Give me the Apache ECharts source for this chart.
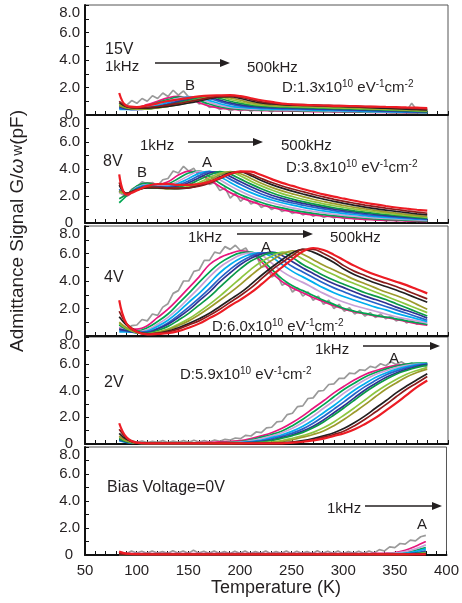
<!DOCTYPE html>
<html><head><meta charset="utf-8">
<script src="https://cdn.jsdelivr.net/npm/echarts@6/dist/echarts.min.js"></script>
<style>html,body{margin:0;padding:0;background:#fff}#c{width:462px;height:603px}</style>
</head><body><div id="c"></div>
<script>
// ---------------- DATA ----------------
const T = [83,90,100,110,120,130,140,150,160,170,180,190,200,210,220,230,240,250,260,270,280,290,300,310,320,330,340,350,360,370,380];
const TG = [85,90,95,100,105,110,115,120,125,130,135,140,145,150,155,160,165,170,175,180,185,190,195,200,205,210,215,220,225,230,235,240,245,250,255,260,265,270,275,280,285,290,295,300,305,310,315,320,325,330,335,340,345,350,355,360,365,370,375,380];
const xTicks = [50,100,150,200,250,300,350,400];
const yTicks = [0,2,4,6,8];
const biasLabels = ['15V','8V','4V','2V','Bias Voltage=0V'];
const densities = ['1.3','3.8','6.0','5.9'];

// 15 V
const v15_gray = [0.9,0.7,1.05,0.85,1.2,1.0,1.4,1.2,1.6,1.35,1.8,1.45,1.75,1.3,1.2,0.8,0.9,0.55,0.65,0.4,0.55,0.3,0.45,0.3,0.5,0.25,0.45,0.3,0.4,0.22,0.5,0.3,0.4,0.25,0.45,0.3,0.4,0.28,0.5,0.3,0.38,0.25,0.45,0.3,0.4,0.25,0.6,0.3,0.4,0.25,0.45,0.28,0.4,0.25,0.5,0.3,0.85,0.35,0.45,0.3];
const v15_magenta = [0.6,0.5,0.55,0.75,1.0,1.25,1.35,1.2,0.9,0.65,0.5,0.42,0.38,0.35,0.33,0.31,0.3,0.28,0.27,0.25,0.24,0.23,0.22,0.21,0.2,0.19,0.18,0.17,0.16,0.15,0.15];
const v15_green = [0.5,0.45,0.5,0.65,0.9,1.12,1.3,1.3,1.05,0.8,0.6,0.48,0.42,0.38,0.36,0.34,0.33,0.32,0.3,0.29,0.27,0.26,0.25,0.24,0.22,0.21,0.2,0.19,0.18,0.17,0.16];
const v15_plum = [0.55,0.45,0.45,0.58,0.8,1.02,1.22,1.33,1.18,0.92,0.7,0.56,0.48,0.43,0.4,0.38,0.37,0.36,0.34,0.32,0.31,0.29,0.28,0.26,0.25,0.23,0.22,0.21,0.19,0.18,0.17];
const v15_cyan = [0.4,0.4,0.42,0.52,0.7,0.92,1.12,1.3,1.28,1.05,0.82,0.65,0.55,0.49,0.45,0.43,0.41,0.4,0.38,0.36,0.34,0.32,0.3,0.29,0.27,0.25,0.24,0.22,0.21,0.2,0.18];
const v15_blue = [0.5,0.42,0.4,0.48,0.62,0.82,1.02,1.2,1.32,1.2,0.97,0.78,0.65,0.57,0.52,0.49,0.47,0.45,0.43,0.41,0.39,0.37,0.35,0.33,0.31,0.29,0.27,0.25,0.23,0.21,0.2];
const v15_navy = [0.6,0.45,0.4,0.45,0.58,0.75,0.95,1.13,1.3,1.28,1.08,0.88,0.74,0.64,0.58,0.54,0.52,0.5,0.48,0.46,0.44,0.42,0.4,0.38,0.36,0.34,0.31,0.29,0.27,0.25,0.22];
const v15_green2 = [0.7,0.5,0.42,0.44,0.55,0.7,0.88,1.06,1.24,1.32,1.2,1.0,0.84,0.72,0.65,0.6,0.57,0.55,0.53,0.51,0.49,0.47,0.45,0.43,0.41,0.38,0.36,0.33,0.31,0.28,0.25];
const v15_ygreen = [0.8,0.55,0.45,0.45,0.52,0.65,0.8,0.98,1.15,1.3,1.3,1.13,0.95,0.8,0.71,0.66,0.63,0.61,0.59,0.57,0.55,0.52,0.5,0.48,0.46,0.43,0.41,0.38,0.35,0.32,0.29];
const v15_olive = [0.7,0.52,0.45,0.46,0.52,0.62,0.75,0.9,1.07,1.23,1.33,1.25,1.07,0.9,0.79,0.72,0.68,0.66,0.64,0.62,0.6,0.57,0.55,0.52,0.5,0.47,0.44,0.41,0.38,0.35,0.32];
const v15_black = [0.9,0.6,0.5,0.5,0.55,0.63,0.74,0.87,1.02,1.18,1.32,1.33,1.2,1.02,0.88,0.8,0.75,0.72,0.7,0.68,0.66,0.63,0.61,0.58,0.55,0.52,0.49,0.46,0.43,0.4,0.37];
const v15_brown = [1.0,0.62,0.52,0.55,0.62,0.72,0.84,0.98,1.12,1.26,1.36,1.38,1.3,1.12,0.96,0.86,0.8,0.77,0.75,0.73,0.71,0.69,0.67,0.65,0.62,0.6,0.57,0.54,0.5,0.47,0.43];
const v15_red = [1.6,0.67,0.58,0.7,0.85,1.02,1.13,1.25,1.35,1.41,1.43,1.44,1.37,1.22,1.07,0.95,0.83,0.77,0.73,0.71,0.69,0.67,0.66,0.64,0.62,0.61,0.59,0.57,0.55,0.53,0.5];

// 8 V
const v8_gray = [2.6,2.0,2.5,2.7,3.05,2.9,3.0,2.75,3.2,3.3,3.85,3.7,4.2,3.85,4.05,3.4,3.5,2.85,3.0,2.4,2.6,1.85,2.2,1.6,1.95,1.4,1.6,1.15,1.35,1.0,1.2,0.85,1.0,0.7,0.85,0.6,0.75,0.5,0.65,0.42,0.55,0.38,0.5,0.32,0.45,0.28,0.38,0.22,0.35,0.2,0.3,0.15,0.3,0.15,0.25,0.12,0.22,0.12,0.2,0.12];
const v8_magenta = [2.3,2.0,2.7,2.95,2.85,3.05,3.55,3.85,3.7,3.2,2.7,2.25,1.9,1.6,1.35,1.15,0.98,0.82,0.7,0.6,0.52,0.45,0.38,0.32,0.27,0.23,0.2,0.18,0.15,0.13,0.12];
const v8_green = [1.5,2.0,2.75,2.95,2.8,2.9,3.3,3.7,3.85,3.45,2.95,2.5,2.1,1.8,1.52,1.3,1.12,0.96,0.83,0.72,0.62,0.54,0.47,0.41,0.35,0.31,0.27,0.24,0.21,0.18,0.15];
const v8_plum = [2.2,2.1,2.65,2.85,2.75,2.8,3.1,3.5,3.82,3.65,3.2,2.75,2.35,2.0,1.72,1.5,1.3,1.12,0.98,0.86,0.75,0.65,0.57,0.5,0.43,0.38,0.34,0.3,0.26,0.23,0.2];
const v8_cyan = [2.4,2.1,2.6,2.8,2.7,2.72,2.95,3.3,3.68,3.82,3.45,3.0,2.6,2.25,1.95,1.7,1.5,1.32,1.16,1.02,0.9,0.79,0.7,0.61,0.54,0.47,0.42,0.37,0.32,0.28,0.25];
const v8_blue = [2.5,2.15,2.55,2.75,2.68,2.65,2.82,3.12,3.5,3.8,3.65,3.25,2.85,2.48,2.15,1.88,1.66,1.48,1.32,1.17,1.04,0.92,0.82,0.72,0.63,0.56,0.5,0.44,0.38,0.33,0.28];
const v8_navy = [2.4,2.15,2.5,2.7,2.65,2.62,2.72,2.98,3.35,3.7,3.78,3.45,3.05,2.68,2.35,2.06,1.82,1.62,1.45,1.3,1.16,1.03,0.92,0.82,0.72,0.64,0.57,0.5,0.44,0.38,0.32];
const v8_green2 = [1.8,2.1,2.5,2.68,2.62,2.58,2.65,2.85,3.2,3.55,3.8,3.62,3.25,2.88,2.54,2.24,1.98,1.77,1.58,1.42,1.27,1.13,1.01,0.9,0.8,0.71,0.63,0.56,0.49,0.42,0.36];
const v8_ygreen = [2.3,2.15,2.45,2.62,2.6,2.55,2.58,2.72,3.0,3.35,3.68,3.78,3.48,3.1,2.75,2.44,2.18,1.96,1.76,1.58,1.42,1.28,1.15,1.03,0.92,0.82,0.73,0.64,0.56,0.49,0.42];
const v8_olive = [2.4,2.2,2.45,2.6,2.58,2.54,2.55,2.65,2.88,3.2,3.55,3.8,3.65,3.3,2.95,2.64,2.38,2.16,1.95,1.76,1.59,1.43,1.29,1.16,1.04,0.93,0.83,0.73,0.64,0.56,0.48];
const v8_black = [2.8,2.2,2.45,2.6,2.6,2.56,2.54,2.6,2.78,3.05,3.4,3.72,3.78,3.5,3.15,2.84,2.58,2.36,2.15,1.95,1.77,1.6,1.45,1.31,1.18,1.06,0.96,0.86,0.77,0.68,0.6];
const v8_brown = [3.0,2.2,2.45,2.65,2.65,2.6,2.58,2.6,2.72,2.95,3.28,3.62,3.8,3.62,3.3,3.0,2.74,2.52,2.32,2.12,1.93,1.76,1.6,1.46,1.33,1.21,1.1,1.0,0.9,0.81,0.72];
const v8_red = [3.6,2.1,2.4,2.75,2.88,2.9,2.82,2.82,2.88,3.05,3.35,3.65,3.82,3.8,3.55,3.25,2.97,2.75,2.52,2.32,2.12,1.95,1.8,1.65,1.5,1.38,1.26,1.15,1.06,0.98,0.91];

// 4 V
const v4_gray = [0.7,0.5,0.75,0.8,1.2,1.1,1.6,1.5,2.1,2.35,3.1,3.3,4.0,4.0,4.7,4.8,5.5,5.5,6.1,6.0,6.5,6.3,6.6,6.2,6.4,5.8,5.9,5.0,5.1,4.3,4.5,3.7,3.9,3.2,3.5,2.9,3.2,2.6,2.9,2.3,2.6,2.0,2.3,1.8,2.05,1.6,1.85,1.45,1.7,1.35,1.6,1.25,1.45,1.1,1.3,0.95,1.15,0.85,1.0,0.8];
const v4_magenta = [0.6,0.5,0.5,0.75,1.35,1.95,2.7,3.5,4.3,5.2,5.7,6.0,6.2,6.05,5.4,4.6,3.95,3.5,3.15,2.8,2.5,2.2,1.95,1.75,1.6,1.45,1.35,1.2,1.05,0.9,0.78];
const v4_green = [0.5,0.4,0.35,0.6,1.05,1.6,2.35,3.1,3.9,4.65,5.3,5.75,6.05,6.1,5.6,4.85,4.15,3.65,3.3,2.95,2.6,2.3,2.0,1.8,1.65,1.5,1.38,1.25,1.1,0.97,0.85];
const v4_plum = [0.6,0.45,0.3,0.45,0.85,1.35,2.0,2.75,3.5,4.3,5.0,5.5,5.9,6.05,5.9,5.3,4.7,4.25,3.9,3.5,3.1,2.75,2.45,2.2,2.0,1.8,1.6,1.4,1.25,1.1,0.95];
const v4_cyan = [0.3,0.3,0.25,0.35,0.7,1.15,1.75,2.45,3.1,3.85,4.6,5.2,5.65,5.95,6.05,5.75,5.2,4.7,4.3,3.9,3.5,3.15,2.85,2.6,2.35,2.1,1.9,1.65,1.45,1.25,1.05];
const v4_blue = [0.4,0.35,0.25,0.3,0.55,0.95,1.5,2.1,2.75,3.45,4.2,4.85,5.4,5.8,6.05,5.95,5.55,5.05,4.65,4.25,3.85,3.5,3.2,2.9,2.65,2.4,2.15,1.9,1.65,1.4,1.15];
const v4_navy = [0.5,0.4,0.25,0.25,0.5,0.85,1.35,1.9,2.55,3.2,3.95,4.6,5.2,5.65,5.95,6.1,5.85,5.4,4.95,4.55,4.15,3.8,3.5,3.2,2.9,2.65,2.4,2.1,1.85,1.6,1.3];
const v4_green2 = [0.8,0.5,0.25,0.2,0.4,0.7,1.15,1.65,2.25,2.85,3.55,4.25,4.9,5.45,5.8,6.05,6.05,5.7,5.2,4.8,4.4,4.05,3.75,3.45,3.15,2.9,2.65,2.35,2.05,1.75,1.45];
const v4_ygreen = [0.9,0.55,0.25,0.15,0.3,0.5,0.85,1.25,1.75,2.3,2.9,3.55,4.2,4.85,5.4,5.8,6.1,6.0,5.6,5.2,4.8,4.45,4.1,3.8,3.5,3.2,2.9,2.6,2.3,2.0,1.7];
const v4_olive = [1.0,0.6,0.25,0.15,0.25,0.45,0.75,1.1,1.55,2.05,2.6,3.15,3.75,4.4,5.0,5.5,5.95,6.2,5.95,5.55,5.15,4.8,4.45,4.1,3.8,3.5,3.2,2.95,2.65,2.3,1.95];
const v4_black = [1.4,0.8,0.3,0.15,0.2,0.35,0.6,0.9,1.25,1.65,2.15,2.65,3.15,3.75,4.4,5.0,5.55,6.05,6.3,6.1,5.75,5.35,4.85,4.45,4.15,3.85,3.6,3.35,3.05,2.75,2.45];
const v4_brown = [1.8,0.9,0.35,0.15,0.2,0.3,0.5,0.8,1.1,1.5,1.95,2.45,2.95,3.5,4.15,4.8,5.35,5.85,6.3,6.3,6.0,5.6,5.1,4.7,4.4,4.1,3.85,3.6,3.3,3.0,2.7];
const v4_red = [2.6,0.9,0.3,0.12,0.15,0.2,0.35,0.6,0.9,1.3,1.7,2.2,2.65,3.15,3.75,4.4,5.0,5.6,6.15,6.4,6.25,5.9,5.5,5.1,4.75,4.45,4.2,3.95,3.7,3.4,3.1];

// 2 V
const v2_gray = [0.3,0.2,0.25,0.12,0.22,0.1,0.2,0.12,0.25,0.1,0.22,0.12,0.25,0.12,0.28,0.15,0.25,0.15,0.3,0.2,0.35,0.3,0.45,0.4,0.65,0.6,0.9,0.85,1.2,1.25,1.65,1.7,2.2,2.3,2.8,2.85,3.4,3.45,3.95,4.0,4.45,4.5,4.9,4.9,5.3,5.25,5.55,5.5,5.8,5.7,6.0,5.85,6.15,5.95,6.15,5.9,6.05,5.8,5.95,5.75];
const v2_magenta = [0.4,0.2,0.1,0.07,0.07,0.07,0.07,0.07,0.1,0.12,0.16,0.2,0.25,0.41,0.61,0.84,1.17,1.6,2.1,2.67,3.23,3.82,4.33,4.8,5.2,5.48,5.71,5.88,5.95,5.95,5.92];
const v2_green = [0.35,0.18,0.08,0.06,0.06,0.06,0.06,0.06,0.06,0.08,0.1,0.13,0.18,0.32,0.51,0.71,0.97,1.37,1.85,2.39,2.94,3.53,4.09,4.56,5.01,5.34,5.6,5.81,5.97,6.04,6.05];
const v2_plum = [0.3,0.15,0.07,0.06,0.06,0.06,0.06,0.06,0.06,0.07,0.08,0.1,0.14,0.25,0.41,0.61,0.84,1.17,1.6,2.1,2.67,3.23,3.82,4.33,4.8,5.2,5.48,5.71,5.88,5.97,6.0];
const v2_cyan = [0.25,0.12,0.06,0.05,0.05,0.05,0.05,0.05,0.05,0.06,0.07,0.08,0.11,0.18,0.3,0.49,0.69,0.96,1.33,1.8,2.34,2.88,3.47,4.04,4.52,4.97,5.31,5.58,5.79,5.94,6.0];
const v2_blue = [0.3,0.13,0.06,0.05,0.05,0.05,0.05,0.05,0.05,0.05,0.06,0.07,0.09,0.14,0.23,0.39,0.59,0.81,1.13,1.55,2.06,2.61,3.17,3.76,4.29,4.74,5.16,5.45,5.69,5.88,5.98];
const v2_navy = [0.35,0.15,0.06,0.05,0.05,0.05,0.05,0.05,0.05,0.05,0.05,0.06,0.07,0.11,0.18,0.3,0.49,0.69,0.96,1.33,1.8,2.34,2.88,3.47,4.04,4.52,4.97,5.31,5.58,5.79,5.95];
const v2_green2 = [0.4,0.17,0.06,0.05,0.05,0.05,0.05,0.05,0.05,0.05,0.05,0.06,0.07,0.1,0.15,0.26,0.43,0.63,0.87,1.21,1.65,2.17,2.72,3.29,3.87,4.38,4.83,5.22,5.5,5.73,5.9];
const v2_ygreen = [0.55,0.22,0.07,0.05,0.05,0.05,0.05,0.05,0.05,0.05,0.05,0.05,0.06,0.07,0.1,0.15,0.26,0.43,0.63,0.87,1.21,1.65,2.17,2.72,3.29,3.87,4.38,4.83,5.22,5.5,5.73];
const v2_olive = [0.6,0.25,0.07,0.05,0.05,0.05,0.05,0.05,0.05,0.05,0.05,0.05,0.05,0.06,0.08,0.11,0.18,0.32,0.51,0.71,0.97,1.37,1.85,2.39,2.94,3.53,4.09,4.56,5.01,5.34,5.6];
const v2_black = [0.8,0.35,0.08,0.05,0.05,0.05,0.05,0.05,0.05,0.05,0.05,0.05,0.05,0.05,0.05,0.06,0.09,0.14,0.25,0.41,0.61,0.84,1.17,1.6,2.1,2.67,3.23,3.82,4.33,4.8,5.25];
const v2_brown = [1.1,0.45,0.08,0.05,0.05,0.05,0.05,0.05,0.05,0.05,0.05,0.05,0.05,0.05,0.05,0.05,0.07,0.11,0.18,0.32,0.51,0.71,0.97,1.37,1.85,2.39,2.94,3.53,4.09,4.56,5.05];
const v2_red = [1.55,0.5,0.1,0.05,0.05,0.05,0.05,0.05,0.05,0.05,0.05,0.05,0.05,0.05,0.05,0.05,0.05,0.1,0.17,0.27,0.4,0.6,0.8,1.1,1.5,1.95,2.5,3.05,3.65,4.25,4.75];

// 0 V
const v0_gray = [0.2,0.1,0.3,0.15,0.28,0.12,0.3,0.15,0.25,0.12,0.32,0.15,0.3,0.12,0.35,0.15,0.28,0.12,0.3,0.12,0.25,0.1,0.28,0.12,0.3,0.1,0.25,0.12,0.3,0.1,0.25,0.12,0.3,0.1,0.28,0.12,0.25,0.1,0.32,0.12,0.28,0.12,0.3,0.1,0.25,0.12,0.28,0.12,0.3,0.15,0.4,0.3,0.6,0.55,0.85,0.8,1.1,1.05,1.35,1.45];
const v0_magenta = [0.12,0.1,0.1,0.1,0.1,0.1,0.1,0.1,0.1,0.1,0.1,0.1,0.1,0.1,0.1,0.1,0.1,0.1,0.1,0.1,0.1,0.1,0.1,0.1,0.1,0.12,0.13,0.18,0.35,0.65,1.0];
const v0_green = [0.08,0.08,0.08,0.08,0.08,0.08,0.08,0.08,0.08,0.08,0.08,0.08,0.08,0.08,0.08,0.08,0.08,0.08,0.08,0.08,0.08,0.08,0.08,0.08,0.08,0.08,0.09,0.12,0.2,0.35,0.55];
const v0_plum = [0.07,0.07,0.07,0.07,0.07,0.07,0.07,0.07,0.07,0.07,0.07,0.07,0.07,0.07,0.07,0.07,0.07,0.07,0.07,0.07,0.07,0.07,0.07,0.07,0.07,0.08,0.1,0.14,0.25,0.45,0.75];
const v0_cyan = [0.06,0.06,0.06,0.06,0.06,0.06,0.06,0.06,0.06,0.06,0.06,0.06,0.06,0.06,0.06,0.06,0.06,0.06,0.06,0.06,0.06,0.06,0.06,0.06,0.06,0.06,0.07,0.09,0.13,0.25,0.45];
const v0_blue = [0.05,0.05,0.05,0.05,0.05,0.05,0.05,0.05,0.05,0.05,0.05,0.05,0.05,0.05,0.05,0.05,0.05,0.05,0.05,0.05,0.05,0.05,0.05,0.05,0.05,0.05,0.05,0.06,0.08,0.15,0.3];
const v0_navy = [0.05,0.05,0.05,0.05,0.05,0.05,0.05,0.05,0.05,0.05,0.05,0.05,0.05,0.05,0.05,0.05,0.05,0.05,0.05,0.05,0.05,0.05,0.05,0.05,0.05,0.05,0.05,0.05,0.07,0.12,0.22];
const v0_green2 = [0.06,0.06,0.06,0.06,0.06,0.06,0.06,0.06,0.06,0.06,0.06,0.06,0.06,0.06,0.06,0.06,0.06,0.06,0.06,0.06,0.06,0.06,0.06,0.06,0.06,0.06,0.06,0.06,0.07,0.1,0.2];
const v0_ygreen = [0.05,0.05,0.05,0.05,0.05,0.05,0.05,0.05,0.05,0.05,0.05,0.05,0.05,0.05,0.05,0.05,0.05,0.05,0.05,0.05,0.05,0.05,0.05,0.05,0.05,0.05,0.05,0.05,0.05,0.08,0.15];
const v0_olive = [0.05,0.05,0.05,0.05,0.05,0.05,0.05,0.05,0.05,0.05,0.05,0.05,0.05,0.05,0.05,0.05,0.05,0.05,0.05,0.05,0.05,0.05,0.05,0.05,0.05,0.05,0.05,0.05,0.05,0.07,0.12];
const v0_black = [0.06,0.05,0.05,0.05,0.05,0.05,0.05,0.05,0.05,0.05,0.05,0.05,0.05,0.05,0.05,0.05,0.05,0.05,0.05,0.05,0.05,0.05,0.05,0.05,0.05,0.05,0.05,0.05,0.05,0.06,0.08];
const v0_brown = [0.08,0.05,0.05,0.05,0.05,0.05,0.05,0.05,0.05,0.05,0.05,0.05,0.05,0.05,0.05,0.05,0.05,0.05,0.05,0.05,0.05,0.05,0.05,0.05,0.05,0.05,0.05,0.05,0.05,0.05,0.06];
const v0_red = [0.25,0.1,0.06,0.05,0.05,0.05,0.05,0.05,0.05,0.05,0.05,0.05,0.05,0.05,0.05,0.05,0.05,0.05,0.05,0.05,0.05,0.05,0.05,0.05,0.05,0.05,0.05,0.05,0.05,0.05,0.05];

// ---------------- STYLE ----------------
const FONT = 'Liberation Sans, Arial, Helvetica, sans-serif';
const INK = '#231f20';
const GRAY = '#9a9a9a';
const colors = ['#e6177d','#00a651','#c9a0d6','#00aeef','#2562c8','#2e3192','#0a9a48','#8dc63f','#9c9a2c','#231f20','#8b1c1c','#ed1c24'];
const grids = [
  {top:5, height:110},
  {top:115, height:108},
  {top:226, height:110},
  {top:337, height:107},
  {top:447, height:108}
];
const panels = [
  {gray:v15_gray, lines:[v15_magenta,v15_green,v15_plum,v15_cyan,v15_blue,v15_navy,v15_green2,v15_ygreen,v15_olive,v15_black,v15_brown,v15_red]},
  {gray:v8_gray, lines:[v8_magenta,v8_green,v8_plum,v8_cyan,v8_blue,v8_navy,v8_green2,v8_ygreen,v8_olive,v8_black,v8_brown,v8_red]},
  {gray:v4_gray, lines:[v4_magenta,v4_green,v4_plum,v4_cyan,v4_blue,v4_navy,v4_green2,v4_ygreen,v4_olive,v4_black,v4_brown,v4_red]},
  {gray:v2_gray, lines:[v2_magenta,v2_green,v2_plum,v2_cyan,v2_blue,v2_navy,v2_green2,v2_ygreen,v2_olive,v2_black,v2_brown,v2_red]},
  {gray:v0_gray, lines:[v0_magenta,v0_green,v0_plum,v0_cyan,v0_blue,v0_navy,v0_green2,v0_ygreen,v0_olive,v0_black,v0_brown,v0_red]}
];

const grid = [], xAxis = [], yAxis = [], series = [];
grids.forEach((g, i) => {
  grid.push({left:85, width:363, top:g.top, height:g.height, show:true, borderColor:'#555', borderWidth:1, backgroundColor:'transparent'});
  const last = i === grids.length - 1;
  xAxis.push({
    type:'value', gridIndex:i, min:xTicks[0], max:xTicks[xTicks.length-1], interval:xTicks[1]-xTicks[0],
    axisLine:{show:true, onZero:false, lineStyle:{color:'#111', width:2}},
    axisTick:{show:true, inside:true, length:4, lineStyle:{color:'#111', width:1}},
    minorTick:{show:true, splitNumber:5, length:4, lineStyle:{color:'#111', width:1}},
    splitLine:{show:false},
    axisLabel:{show:last, fontSize:15, fontFamily:FONT, color:INK, margin:8}
  });
  yAxis.push({
    type:'value', gridIndex:i, min:yTicks[0], max:yTicks[yTicks.length-1], interval:yTicks[1]-yTicks[0],
    axisLine:{show:true, lineStyle:{color:'#111', width:2}},
    axisTick:{show:true, inside:true, length:4, lineStyle:{color:'#111', width:1}},
    minorTick:{show:true, splitNumber:2, length:4, lineStyle:{color:'#111', width:1}},
    splitLine:{show:false},
    axisLabel:{fontSize:15, fontFamily:FONT, color:INK, margin:5, verticalAlignMaxLabel:'top',
      formatter: v => v === 0 ? '{z|0}' : v.toFixed(1),
      rich:{z:{fontSize:15, fontFamily:FONT, color:INK, padding:[0,7,0,0]}}}
  });
  const p = panels[i];
  series.push({type:'line', xAxisIndex:i, yAxisIndex:i, data:TG.map((t,k)=>[t,p.gray[k]]),
    showSymbol:false, smooth:false, lineStyle:{color:GRAY, width:1.7}, itemStyle:{color:GRAY}, z:2, silent:true});
  p.lines.forEach((arr, j) => {
    const c = colors[j];
    series.push({type:'line', xAxisIndex:i, yAxisIndex:i, data:T.map((t,k)=>[t,arr[k]]),
      showSymbol:false, smooth:0.4, lineStyle:{color:c, width: j===colors.length-1 ? 2.2 : 1.7}, itemStyle:{color:c}, z:3+j, silent:true});
  });
});

// ---------------- ANNOTATIONS ----------------
function txt(x, y, s, size, align) {
  return {type:'text', x:x, y:y, z:100, style:{text:s, fontSize:size||15, fontFamily:FONT, fill:INK, align:align||'left', verticalAlign:'middle'}};
}
function dtxt(x, y, d) {
  return {type:'text', x:x, y:y, z:100, style:{
    text:'D:' + d + 'x10{s|10} eV{s|-1}cm{s|-2}', fontSize:15, fontFamily:FONT, fill:INK, align:'left', verticalAlign:'middle', lineHeight:18,
    rich:{s:{fontSize:10, fontFamily:FONT, fill:INK, verticalAlign:'top', lineHeight:18}}}};
}
function arrow(x1, x2, y) {
  return {type:'group', z:100, children:[
    {type:'line', shape:{x1:x1, y1:y, x2:x2-6, y2:y}, style:{stroke:INK, lineWidth:1.3}},
    {type:'polygon', shape:{points:[[x2,y],[x2-10,y-4],[x2-10,y+4]]}, style:{fill:INK}}
  ]};
}
const graphic = [
  // 15 V
  txt(105, 50, biasLabels[0], 16), txt(105, 67, '1kHz'), arrow(155, 230, 63), txt(247, 68, '500kHz'),
  txt(190, 86, 'B', 15, 'center'), dtxt(282, 88, densities[0]),
  // 8 V
  txt(140, 146, '1kHz'), arrow(188, 263, 142), txt(281, 146, '500kHz'), txt(103, 162, biasLabels[1], 16),
  txt(142, 173, 'B', 15, 'center'), txt(207, 163, 'A', 15, 'center'), dtxt(286, 168, densities[1]),
  // 4 V
  txt(188, 238, '1kHz'), arrow(237, 313, 234), txt(330, 238, '500kHz'), txt(266, 248, 'A', 15, 'center'),
  txt(104, 278, biasLabels[2], 16), dtxt(212, 327, densities[2]),
  // 2 V
  txt(315, 350, '1kHz'), arrow(363, 440, 346), txt(394, 359, 'A', 15, 'center'),
  txt(104, 383, biasLabels[3], 16), dtxt(180, 375, densities[3]),
  // 0 V
  txt(107, 488, biasLabels[4], 16), txt(327, 509, '1kHz'), arrow(365, 442, 506), txt(422, 525, 'A', 15, 'center'),
  // axis titles
  txt(276, 588, 'Temperature (K)', 18, 'center'),
  {type:'text', x:18, y:231, rotation:Math.PI/2, z:100, style:{
    text:'Admittance Signal G/{i|ω}{w|w}(pF)', fontSize:19, fontFamily:FONT, fill:INK, align:'center', verticalAlign:'middle',
    rich:{i:{fontSize:19, fontFamily:FONT, fontStyle:'italic', fill:INK}, w:{fontSize:15, fontFamily:FONT, fill:INK, padding:[0,0,0,3]}}}}
];

const chart = echarts.init(document.getElementById('c'), null, {renderer:'canvas'});
chart.setOption({animation:false, backgroundColor:'#fff', grid, xAxis, yAxis, series, graphic});
</script></body></html>
